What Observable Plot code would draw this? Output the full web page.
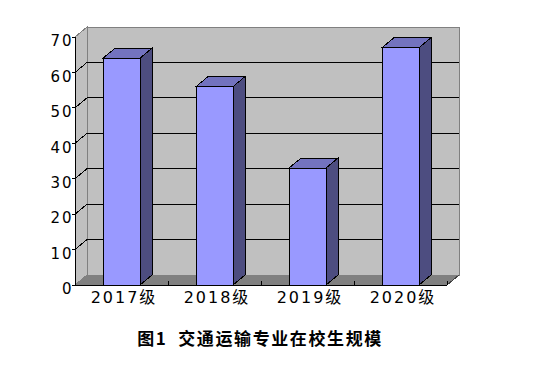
<!DOCTYPE html>
<html>
<head>
<meta charset="utf-8">
<script src="https://cdn.jsdelivr.net/npm/d3@7"></script>
<script src="https://cdn.jsdelivr.net/npm/@observablehq/plot@0.6"></script>
<style>
  html, body { margin: 0; padding: 0; background: #fff; }
  #title {
    width: 536px; box-sizing: border-box; padding-right: 16px;
    text-align: center; white-space: pre;
    font-family: "Noto Sans CJK SC", sans-serif; font-weight: bold;
    font-size: 17px; line-height: 20px; letter-spacing: 1.6px;
    padding-top: 6px; color: #000;
  }
</style>
</head>
<body>
<div id="chart"></div>
<div id="title">图1  交通运输专业在校生规模</div>
<script>
const categories = ["2017级", "2018级", "2019级", "2020级"];
const values = [64, 56, 33, 67];
const yTicks = [0, 10, 20, 30, 40, 50, 60, 70];

const data = categories.map((c, i) => ({cat: c, value: values[i]}));

// pseudo-3D depth (pixels) and bar insets
const DX = 12, DY = -10;
const INSET_L = 28, INSET_R = 28;

function poly(g, pts, fill, stroke) {
  g.append("path")
    .attr("d", "M" + pts.map(p => p.join(",")).join("L") + "Z")
    .attr("fill", fill)
    .attr("stroke", stroke || "none")
    .attr("stroke-width", 1)
    .attr("shape-rendering", "crispEdges");
}
function line(g, a, b, stroke) {
  g.append("line")
    .attr("x1", a[0]).attr("y1", a[1]).attr("x2", b[0]).attr("y2", b[1])
    .attr("stroke", stroke).attr("stroke-width", 1)
    .attr("shape-rendering", "crispEdges");
}

function walls(index, scales, vals, dims) {
  const {x, y} = scales;
  const x0 = dims.marginLeft, x1 = dims.width - dims.marginRight;
  const y0 = y(0), yT = y(yTicks[yTicks.length - 1]);
  const g = d3.create("svg:g");
  poly(g, [[x0, y0], [x0, yT], [x0 + DX, yT + DY], [x0 + DX, y0 + DY]], "#C0C0C0", "#808080");
  poly(g, [[x0 + DX, yT + DY], [x1 + DX, yT + DY], [x1 + DX, y0 + DY], [x0 + DX, y0 + DY]], "#C0C0C0", "#808080");
  for (const t of yTicks.slice(1, -1)) {
    line(g, [x0 + DX, y(t) + DY], [x1 + DX, y(t) + DY], "#000");
    line(g, [x0, y(t)], [x0 + DX, y(t) + DY], "#000");
  }
  poly(g, [[x0, y0], [x0 + DX, y0 + DY], [x1 + DX, y0 + DY], [x1, y0]], "#808080", null);
  line(g, [x1, y0], [x1 + DX, y0 + DY], "#404040");
  return g.node();
}

function bars3d(index, scales, vals, dims) {
  const {x, y} = scales;
  const bw = x.bandwidth();
  const g = d3.create("svg:g");
  for (const d of data) {
    const xl = x(d.cat) + INSET_L, xr = x(d.cat) + bw - INSET_R;
    const yt = y(d.value), yb = y(0);
    poly(g, [[xr, yb], [xr, yt], [xr + DX, yt + DY], [xr + DX, yb + DY]], "#4D4D80", "#000");
    poly(g, [[xl, yt], [xl + DX, yt + DY], [xr + DX, yt + DY], [xr, yt]], "#7373BF", "#000");
  }
  return g.node();
}

function axes(index, scales, vals, dims) {
  const {x, y} = scales;
  const x0 = dims.marginLeft, x1 = dims.width - dims.marginRight;
  const y0 = y(0);
  const g = d3.create("svg:g");
  line(g, [x0, y0], [x0, y(yTicks[yTicks.length - 1])], "#000");
  line(g, [x0, y0], [x1, y0], "#000");
  for (const t of yTicks) line(g, [x0 - 3, y(t)], [x0, y(t)], "#000");
  const bounds = categories.map(c => x(c)).concat([x1]);
  for (const b of bounds) line(g, [b, y0], [b, y0 - 4], "#000");
  return g.node();
}

const fontDigits = "'DejaVu Sans', 'Noto Sans CJK SC', sans-serif";

const chart = Plot.plot({
  width: 536,
  height: 322,
  marginLeft: 75,
  marginRight: 89,
  marginTop: 37,
  marginBottom: 37,
  style: {background: "#fff", color: "#000", letterSpacing: "2px"},
  x: {type: "band", domain: categories, padding: 0, axis: null},
  y: {domain: [0, 70], axis: null},
  marks: [
    walls,
    Plot.barY(data, {
      x: "cat", y: "value", fill: "#9999FF", stroke: "#000", strokeWidth: 1,
      insetLeft: INSET_L, insetRight: INSET_R, shapeRendering: "crispEdges"
    }),
    bars3d,
    axes,
    Plot.text(yTicks, {
      y: d => d, text: d => String(d), frameAnchor: "left", textAnchor: "end",
      dx: -2, dy: 4, fontSize: 15, fontFamily: fontDigits, fill: "#000"
    }),
    Plot.text(categories, {
      x: d => d, text: d => d, frameAnchor: "bottom", dy: 17, dx: 2,
      fontSize: 16, fontFamily: fontDigits, fill: "#000"
    })
  ]
});
document.getElementById("chart").appendChild(chart);
</script>
</body>
</html>
